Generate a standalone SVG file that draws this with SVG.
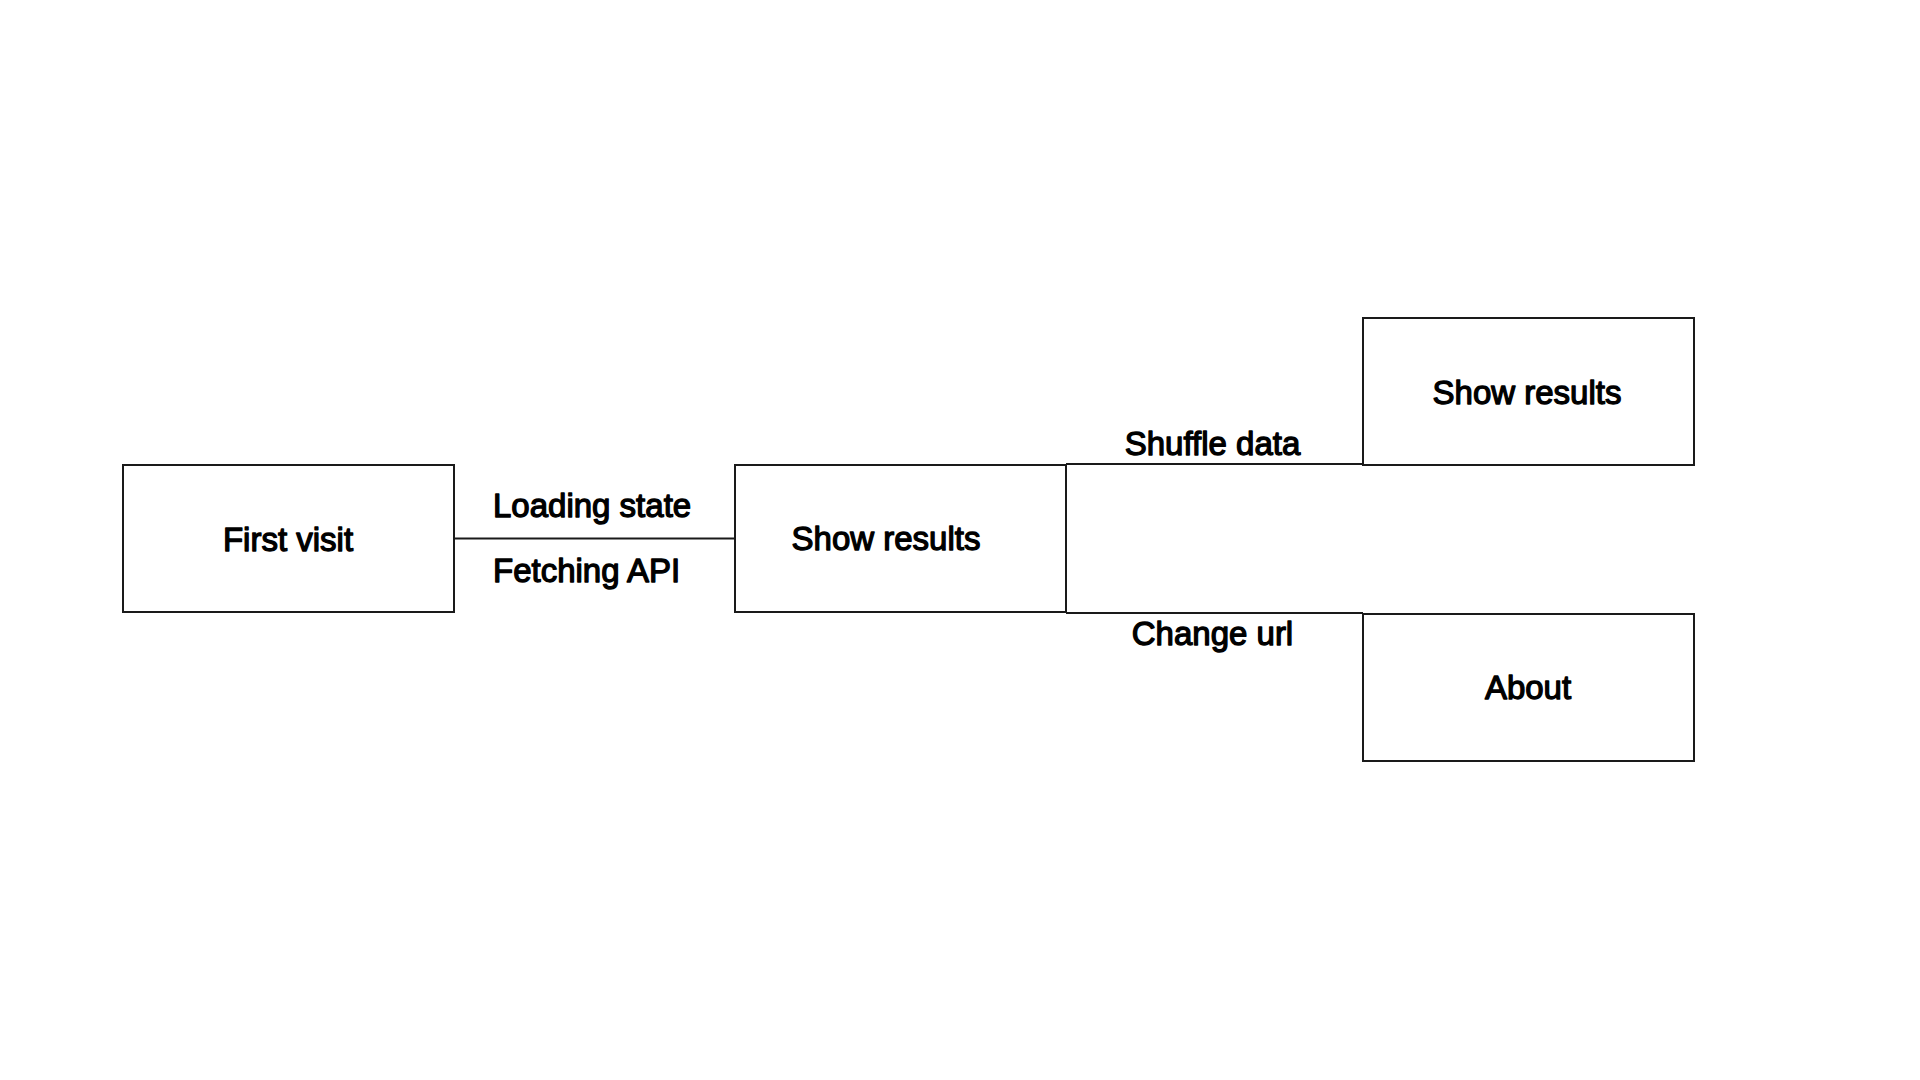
<svg xmlns="http://www.w3.org/2000/svg" width="1920" height="1080" viewBox="0 0 1920 1080">
<style>
.box{fill:#fff;stroke:#1a1a1a;stroke-width:2}
.conn{fill:none;stroke:#1a1a1a;stroke-width:2}
.t{font-family:"Liberation Sans",Arial,sans-serif;font-size:33px;fill:#000;stroke:#000;stroke-width:1.3;stroke-linejoin:round}
.c{text-anchor:middle}
</style>
<rect width="1920" height="1080" fill="#fff"/>
<g id="connectors">
<path class="conn" d="M454,538.5 H735"/>
<path class="conn" d="M1066,464 H1363"/>
<path class="conn" d="M1066,613 H1363"/>
<text class="t" x="493" y="517">Loading state</text>
<text class="t" x="493" y="582">Fetching API</text>
<text class="t c" x="1212.5" y="455">Shuffle data</text>
<text class="t c" x="1212.5" y="645">Change url</text>
</g>
<g id="node-first-visit">
<rect class="box" x="123" y="465" width="331" height="147"/>
<text class="t c" x="288" y="551">First visit</text>
</g>
<g id="node-show-results">
<rect class="box" x="735" y="465" width="331" height="147"/>
<text class="t c" x="886" y="550">Show results</text>
</g>
<g id="node-show-results-2">
<rect class="box" x="1363" y="318" width="331" height="147"/>
<text class="t c" x="1527" y="404">Show results</text>
</g>
<g id="node-about">
<rect class="box" x="1363" y="614" width="331" height="147"/>
<text class="t c" x="1528" y="699">About</text>
</g>
</svg>
